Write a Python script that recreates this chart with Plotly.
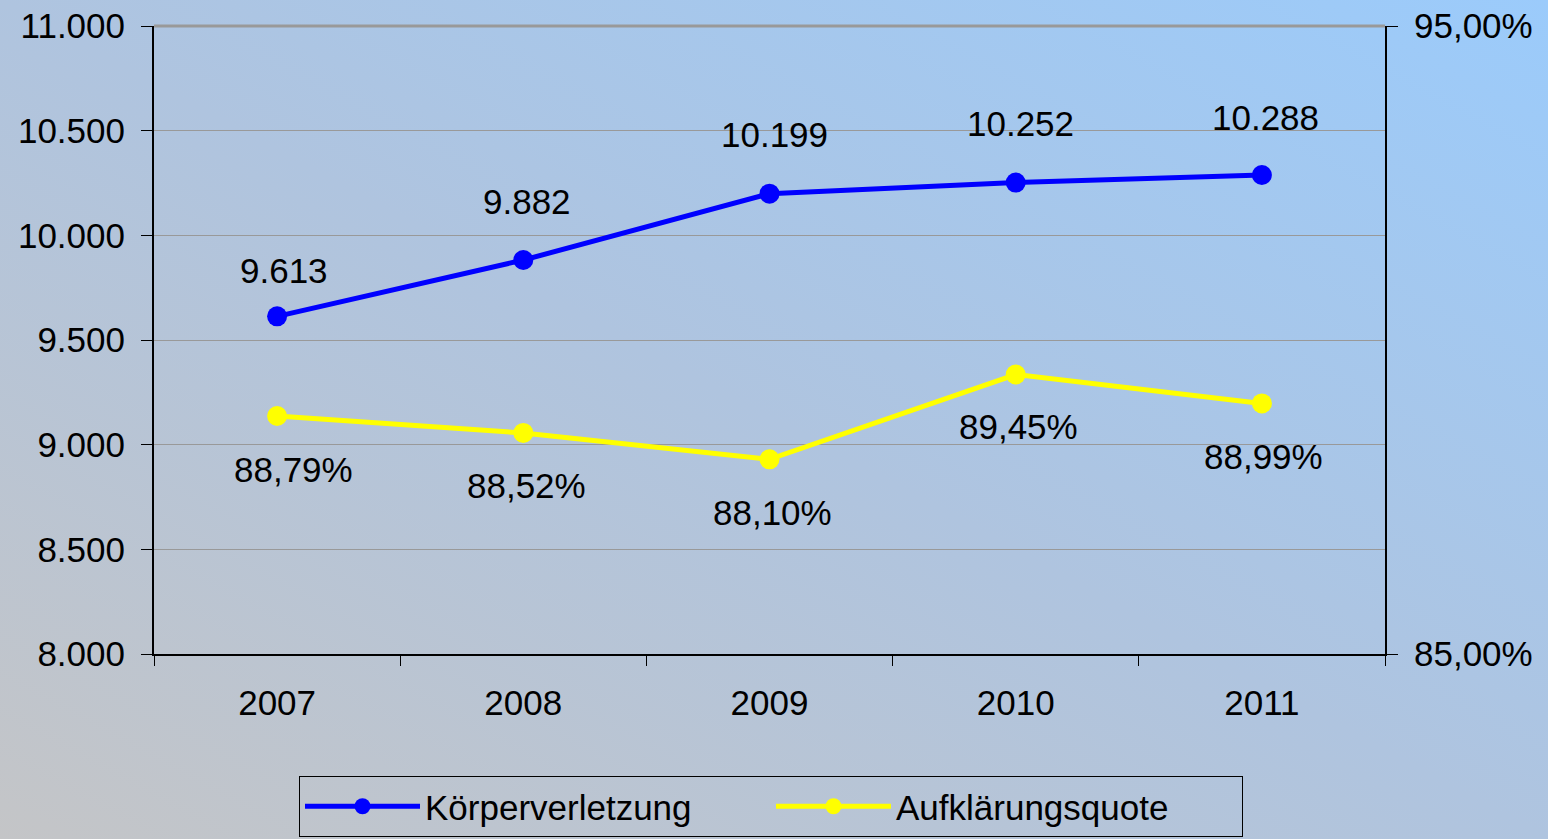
import base64
import plotly.graph_objects as go

# ---- data ----
years = ["2007", "2008", "2009", "2010", "2011"]
koerperverletzung = [9613, 9882, 10199, 10252, 10288]
aufklaerungsquote = [0.8879, 0.8852, 0.8810, 0.8945, 0.8899]
left_ticks = [8000, 8500, 9000, 9500, 10000, 10500, 11000]
right_ticks = [0.85, 0.95]

# label offsets (style)
blue_xshift = [7, 4, 5, 5, 4]
blue_yshift = [46, 59, 59, 59, 58]
yel_xshift = [16, 3, 3, 3, 2]
yel_yshift = [-54, -53, -53, -52, -53]

W, H = 1548, 839
ML, MR, MT, MB = 154, 163, 26, 185
FONT = "Liberation Sans, Arial, Helvetica, sans-serif"
FS = 35

def de_int(v):
    return f"{v:,}".replace(",", ".")

def de_pct(v):
    return f"{v*100:.2f}%".replace(".", ",")

fig = go.Figure()
fig.add_trace(go.Scatter(
    x=years, y=koerperverletzung, name="Körperverletzung", mode="lines+markers",
    line=dict(color="#0000FF", width=5), marker=dict(color="#0000FF", size=20),
    yaxis="y", cliponaxis=False))
fig.add_trace(go.Scatter(
    x=years, y=aufklaerungsquote, name="Aufklärungsquote", mode="lines+markers",
    line=dict(color="#FFFF00", width=5), marker=dict(color="#FFFF00", size=20),
    yaxis="y2", cliponaxis=False))

annotations = []
for i, v in enumerate(koerperverletzung):
    annotations.append(dict(x=i, y=v, xref="x", yref="y", text=de_int(v), showarrow=False,
                            xshift=blue_xshift[i], yshift=blue_yshift[i],
                            font=dict(size=FS, color="black", family=FONT)))
for i, v in enumerate(aufklaerungsquote):
    annotations.append(dict(x=i, y=v, xref="x", yref="y2", text=de_pct(v), showarrow=False,
                            xshift=yel_xshift[i], yshift=yel_yshift[i],
                            font=dict(size=FS, color="black", family=FONT)))

# background gradient image
svg = f'''<svg xmlns="http://www.w3.org/2000/svg" width="{W}" height="{H}" viewBox="0 0 {W} {H}" preserveAspectRatio="none">
<defs><linearGradient id="g" x1="0" y1="1" x2="1" y2="0">
<stop offset="0" stop-color="#C4C5C7"/>
<stop offset="0.5" stop-color="#AFC4DF"/>
<stop offset="1" stop-color="#9BCBFB"/>
</linearGradient></defs>
<rect width="{W}" height="{H}" fill="url(#g)"/></svg>'''
src = "data:image/svg+xml;base64," + base64.b64encode(svg.encode()).decode()
pw = W - ML - MR
ph = H - MT - MB

fig.update_layout(
    width=W, height=H,
    margin=dict(l=ML, r=MR, t=MT, b=MB, autoexpand=False),
    paper_bgcolor="rgba(0,0,0,0)", plot_bgcolor="rgba(0,0,0,0)",
    separators=",.",
    font=dict(family=FONT, size=FS, color="black"),
    images=[dict(source=src, xref="paper", yref="paper",
                 x=-ML / pw, y=1 + MT / ph, sizex=W / pw, sizey=H / ph,
                 xanchor="left", yanchor="top", sizing="stretch", layer="below")],
    xaxis=dict(type="category", categoryorder="array", categoryarray=years,
               range=[-0.5, 4.5], tickson="boundaries", ticks="outside", ticklen=10,
               tickcolor="black", showline=True, linecolor="black", linewidth=2,
               showgrid=False, tickfont=dict(size=FS), ticklabelstandoff=17,
               automargin=False),
    yaxis=dict(range=[8000, 11000], tickvals=left_ticks, tickformat=",d",
               ticks="outside", ticklen=11, tickcolor="black",
               showline=True, linecolor="black", linewidth=2,
               showgrid=True, gridcolor="#999999", gridwidth=1, zeroline=False,
               tickfont=dict(size=FS), ticklabelstandoff=9, automargin=False),
    yaxis2=dict(range=[0.85, 0.95], tickvals=right_ticks, tickformat=".2%",
                overlaying="y", side="right", ticks="outside", ticklen=11,
                tickcolor="black", showline=True, linecolor="black", linewidth=2,
                showgrid=False, zeroline=False, tickfont=dict(size=FS),
                ticklabelstandoff=9, automargin=False),
    shapes=[dict(type="line", xref="paper", yref="paper", x0=0, x1=1, y0=1, y1=1,
                 line=dict(color="#999999", width=3))],
    annotations=annotations,
    showlegend=True,
    legend=dict(orientation="h", xref="container", yref="container",
                x=771 / W, xanchor="center", y=1 - 776 / H, yanchor="top",
                bordercolor="black", borderwidth=1, bgcolor="rgba(0,0,0,0)",
                font=dict(size=FS), entrywidth=341, entrywidthmode="pixels",
                itemwidth=115),
)

fig.write_html("out.html", config={"displayModeBar": False},
               post_script="document.body.style.margin='0';document.body.style.overflow='hidden';")
